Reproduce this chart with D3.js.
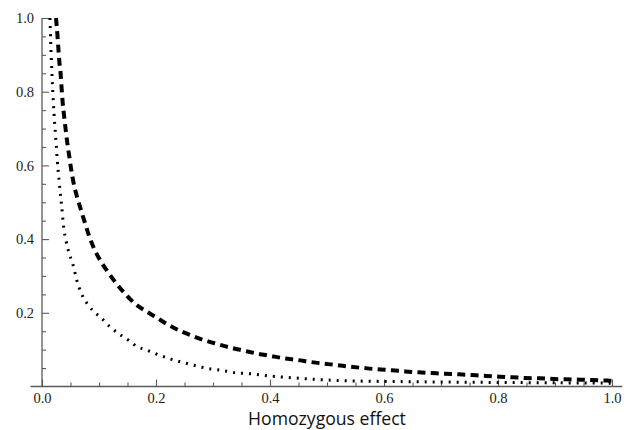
<!DOCTYPE html>
<html>
<head>
<meta charset="utf-8">
<script src="https://cdn.jsdelivr.net/npm/d3@7"></script>
<style>
  html, body { margin: 0; padding: 0; background: #fff; }
  svg { display: block; }
</style>
</head>
<body>
<svg id="chart" width="628" height="430"></svg>
<script>
// ---- data ----
const xTicks = [0.0, 0.2, 0.4, 0.6, 0.8, 1.0];
const yTicks = [0.2, 0.4, 0.6, 0.8, 1.0];
const xLabel = "Homozygous effect";

// dashed curve
const dashedX = [0.0246, 0.027, 0.0286, 0.0304, 0.0328, 0.0346, 0.0363, 0.039, 0.0416, 0.0444, 0.048, 0.0514, 0.0555, 0.0614,
  0.0684, 0.0754, 0.083, 0.0918, 0.1018, 0.1153, 0.1298, 0.1444, 0.1614, 0.1807, 0.2, 0.2198, 0.2421, 0.2644, 0.286,
  0.3082, 0.3316, 0.3549, 0.3784, 0.4012, 0.4246, 0.4479, 0.4714, 0.4947, 0.518, 0.5386, 0.565, 0.588, 0.6135, 0.6368,
  0.66, 0.6837, 0.707, 0.732, 0.7556, 0.78, 0.8035, 0.8258, 0.849, 0.8725, 0.897, 0.9205, 0.944, 0.967, 0.992, 1.0];
const dashedY = [1.0, 0.955, 0.92, 0.882, 0.846, 0.805, 0.77, 0.731, 0.696, 0.661, 0.623, 0.587, 0.552, 0.515,
  0.479, 0.444, 0.407, 0.373, 0.343, 0.3115, 0.281, 0.254, 0.227, 0.206, 0.188, 0.169, 0.151, 0.137, 0.125,
  0.115, 0.105, 0.097, 0.089, 0.083, 0.0765, 0.072, 0.0665, 0.062, 0.058, 0.054, 0.05, 0.0467, 0.044, 0.041,
  0.0385, 0.0366, 0.0347, 0.033, 0.031, 0.0285, 0.0266, 0.025, 0.023, 0.0223, 0.0204, 0.0195, 0.0185, 0.0176, 0.0160, 0.0155];

// dotted curve
const dottedX = [0.014, 0.0153, 0.017, 0.0188, 0.021, 0.024, 0.0268, 0.0304, 0.0346, 0.0386, 0.042, 0.046, 0.0504, 0.055,
  0.0609, 0.0696, 0.0812, 0.0912, 0.1047, 0.1193, 0.1339, 0.1514, 0.1672, 0.1837, 0.2012, 0.2216, 0.2421, 0.2644,
  0.281, 0.296, 0.3105, 0.3398, 0.369, 0.398, 0.4275, 0.53, 0.646, 0.756, 0.874, 1.0];
const dottedY = [1.0, 0.932, 0.867, 0.804, 0.742, 0.677, 0.614, 0.552, 0.487, 0.425, 0.397, 0.37, 0.349, 0.327,
  0.289, 0.251, 0.221, 0.203, 0.185, 0.162, 0.144, 0.126, 0.108, 0.099, 0.088, 0.0765, 0.0673, 0.0583,
  0.052, 0.0475, 0.0448, 0.0374, 0.034, 0.0285, 0.025, 0.0157, 0.013, 0.0114, 0.0103, 0.009];

// ---- drawing ----
const svg = d3.select("#chart");
const x = d3.scaleLinear().domain([0, 1]).range([42, 612]);
const y = d3.scaleLinear().domain([0, 1]).range([386.5, 18]);
const axisColor = "#5a5a5a";

// minor ticks
const xMinor = d3.range(0, 1.0001, 0.05).filter(v => Math.abs(v * 5 - Math.round(v * 5)) > 1e-6);
const yMinor = d3.range(0.05, 1.0001, 0.05).filter(v => Math.abs(v * 5 - Math.round(v * 5)) > 1e-6);

// x axis
const gx = svg.append("g").attr("transform", `translate(0,${y(0)})`);
gx.call(d3.axisBottom(x).tickValues(xTicks).tickSize(-7).tickPadding(6).tickFormat(d3.format(".1f")));
gx.select(".domain").remove();
gx.append("line").attr("x1", x(-0.02)).attr("x2", x(1.018)).attr("y1", 0).attr("y2", 0)
  .attr("stroke", axisColor).attr("stroke-width", 1.3);
const gxm = svg.append("g").attr("transform", `translate(0,${y(0)})`);
gxm.call(d3.axisBottom(x).tickValues(xMinor).tickSize(-4).tickFormat(""));
gxm.select(".domain").remove();

// y axis
const gy = svg.append("g").attr("transform", `translate(${x(0)},0)`);
gy.call(d3.axisLeft(y).tickValues(yTicks).tickSize(-7).tickPadding(8).tickFormat(d3.format(".1f")));
gy.select(".domain").remove();
gy.append("line").attr("x1", 0).attr("x2", 0).attr("y1", y(0)).attr("y2", y(1))
  .attr("stroke", axisColor).attr("stroke-width", 1.3);
const gym = svg.append("g").attr("transform", `translate(${x(0)},0)`);
gym.call(d3.axisLeft(y).tickValues(yMinor).tickSize(-4).tickFormat(""));
gym.select(".domain").remove();

svg.selectAll(".tick line").attr("stroke", axisColor).attr("stroke-width", 1.1);
svg.selectAll(".tick text")
  .style("font-family", "'Liberation Serif', 'Times New Roman', 'DejaVu Serif', serif")
  .style("font-size", "14.5px")
  .style("fill", "#222");

// axis label
const lab = svg.append("text")
  .attr("x", 327).attr("y", 425)
  .attr("text-anchor", "middle")
  .style("font-family", "'Open Sans', Lato, sans-serif")
  .style("font-size", "15px")
  .attr("fill", "#111")
  .text(xLabel);
// fit label width to the reference's span (~158 px)
const w = lab.node().getComputedTextLength();
if (w > 0) lab.style("font-size", (15 * 158 / w).toFixed(2) + "px");

// curves
const line = d3.line().x(d => x(d[0])).y(d => y(d[1])).curve(d3.curveMonotoneX);

svg.append("path")
  .datum(dashedX.map((v, i) => [v, dashedY[i]]))
  .attr("d", line)
  .attr("fill", "none").attr("stroke", "#000")
  .attr("stroke-width", 4).attr("stroke-dasharray", "8,5.3");

svg.append("path")
  .datum(dottedX.map((v, i) => [v, dottedY[i]]))
  .attr("d", line)
  .attr("fill", "none").attr("stroke", "#000")
  .attr("stroke-width", 3).attr("stroke-dasharray", "2,6");
</script>
</body>
</html>
